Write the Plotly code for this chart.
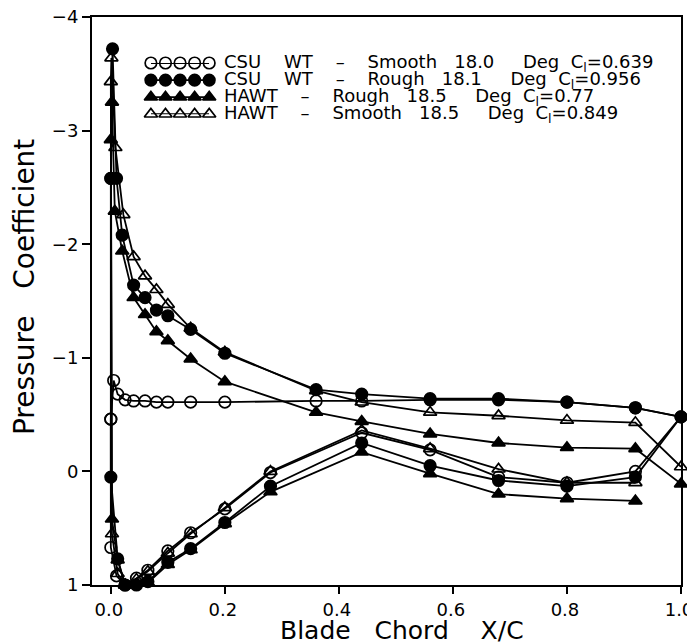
import plotly.graph_objects as go

FONT = "DejaVu Sans"
NB = "\u00a0"

# ---------------- data (x/c, Cp) ----------------
# CSU WT - Smooth 18.0 deg (open circles)
csu_s_up_x = [0.0, 0.005, 0.012, 0.025, 0.04, 0.06, 0.08, 0.10, 0.14, 0.20, 0.36, 0.44, 0.56, 0.68, 0.80, 0.92, 1.0]
csu_s_up_cp = [-0.46, -0.80, -0.68, -0.63, -0.62, -0.62, -0.61, -0.61, -0.61, -0.61, -0.62, -0.62, -0.63, -0.63, -0.61, -0.56, -0.48]
csu_s_lo_x = [0.92, 0.80, 0.68, 0.56, 0.44, 0.28, 0.20, 0.14, 0.10, 0.065, 0.045, 0.025, 0.01, 0.0]
csu_s_lo_cp = [0.00, 0.10, 0.05, -0.19, -0.34, 0.01, 0.33, 0.54, 0.70, 0.87, 0.94, 1.00, 0.92, 0.67]

# CSU WT - Rough 18.1 deg (filled circles)
csu_r_up_x = [0.0, 0.003, 0.01, 0.02, 0.04, 0.06, 0.08, 0.10, 0.14, 0.20, 0.36, 0.44, 0.56, 0.68, 0.80, 0.92, 1.0]
csu_r_up_cp = [-2.58, -3.72, -2.58, -2.08, -1.64, -1.53, -1.42, -1.37, -1.25, -1.04, -0.72, -0.68, -0.64, -0.64, -0.61, -0.56, -0.48]
csu_r_lo_x = [0.92, 0.80, 0.68, 0.56, 0.44, 0.28, 0.20, 0.14, 0.10, 0.065, 0.045, 0.025, 0.012, 0.0]
csu_r_lo_cp = [0.05, 0.13, 0.08, -0.05, -0.25, 0.13, 0.45, 0.68, 0.80, 0.97, 1.00, 1.00, 0.77, 0.05]

# HAWT - Rough 18.5 deg (filled triangles)
hawt_r_lo_x = [0.92, 0.80, 0.68, 0.56, 0.44, 0.28, 0.20, 0.14, 0.10, 0.065, 0.045, 0.025, 0.012, 0.002]
hawt_r_lo_cp = [0.26, 0.24, 0.20, 0.02, -0.17, 0.18, 0.46, 0.69, 0.82, 0.98, 1.02, 1.00, 0.78, 0.42]
hawt_r_up_x = [0.0, 0.002, 0.007, 0.02, 0.04, 0.06, 0.08, 0.10, 0.14, 0.20, 0.36, 0.44, 0.56, 0.68, 0.80, 0.92, 1.0]
hawt_r_up_cp = [-2.92, -3.25, -2.29, -1.94, -1.53, -1.38, -1.23, -1.15, -0.99, -0.79, -0.52, -0.44, -0.33, -0.25, -0.21, -0.20, 0.11]

# HAWT - Smooth 18.5 deg (open triangles)
hawt_s_lo_x = [0.92, 0.80, 0.68, 0.56, 0.44, 0.28, 0.20, 0.14, 0.10, 0.065, 0.045, 0.025, 0.012, 0.002]
hawt_s_lo_cp = [0.10, 0.10, -0.02, -0.20, -0.36, 0.00, 0.32, 0.55, 0.72, 0.88, 0.95, 1.00, 0.90, 0.55]
hawt_s_up_x = [0.0, 0.001, 0.008, 0.022, 0.04, 0.06, 0.08, 0.10, 0.14, 0.20, 0.36, 0.44, 0.56, 0.68, 0.80, 0.92, 1.0]
hawt_s_up_cp = [-3.43, -3.64, -2.85, -2.26, -1.89, -1.72, -1.60, -1.47, -1.26, -1.05, -0.71, -0.61, -0.52, -0.49, -0.45, -0.43, -0.04]

def gap(n):
    return NB * n

legend_labels = [
    "CSU" + gap(4) + "WT" + gap(4) + "–" + gap(4) + "Smooth" + gap(3) + "18.0" + gap(5) + "Deg" + gap(2) + "C<sub>l</sub>=0.639",
    "CSU" + gap(4) + "WT" + gap(4) + "–" + gap(4) + "Rough" + gap(3) + "18.1" + gap(5) + "Deg" + gap(2) + "C<sub>l</sub>=0.956",
    "HAWT" + gap(4) + "–" + gap(4) + "Rough" + gap(3) + "18.5" + gap(5) + "Deg" + gap(2) + "C<sub>l</sub>=0.77",
    "HAWT" + gap(4) + "–" + gap(4) + "Smooth" + gap(3) + "18.5" + gap(5) + "Deg" + gap(2) + "C<sub>l</sub>=0.849",
]
legend_sample_x = [0, 1, 2, 3, 4]

x_title = "Blade" + gap(3) + "Chord" + gap(4) + "X/C"
y_title = "Pressure" + gap(3) + "Coefficient"

x_ticks = [0.0, 0.2, 0.4, 0.6, 0.8, 1.0]
y_ticks = [-4, -3, -2, -1, 0, 1]

series = [
    (csu_s_up_x + csu_s_lo_x + csu_s_up_x[:1], csu_s_up_cp + csu_s_lo_cp + csu_s_up_cp[:1], "circle-open"),
    (csu_r_up_x + csu_r_lo_x + csu_r_up_x[:1], csu_r_up_cp + csu_r_lo_cp + csu_r_up_cp[:1], "circle"),
    (hawt_r_lo_x + hawt_r_up_x, hawt_r_lo_cp + hawt_r_up_cp, "triangle-up"),
    (hawt_s_lo_x + hawt_s_up_x, hawt_s_lo_cp + hawt_s_up_cp, "triangle-up-open"),
]

fig = go.Figure()
for i, (xs, ys, sym) in enumerate(series):
    fig.add_trace(go.Scatter(
        x=xs, y=ys, mode="lines+markers", showlegend=False, cliponaxis=False,
        line=dict(color="black", width=1.8),
        marker=dict(symbol=sym, size=11.5, color="black", line=dict(color="black", width=1.7)),
    ))
    # custom legend sample (five markers on a line)
    fig.add_trace(go.Scatter(
        x=legend_sample_x, y=[i] * len(legend_sample_x), xaxis="x2", yaxis="y2",
        mode="lines+markers", showlegend=False, cliponaxis=False,
        line=dict(color="black", width=1.8),
        marker=dict(symbol=sym, size=11.5, color="black", line=dict(color="black", width=1.7)),
    ))
    fig.add_annotation(
        x=0.2207, xref="paper", y=i, yref="y2", text=legend_labels[i],
        showarrow=False, xanchor="left", yanchor="middle",
        font=dict(family=FONT, size=18, color="black"),
    )

# axis titles, placed where the reference has them
fig.add_annotation(
    x=0.526, xref="paper", y=0, yref="paper", yshift=-45, text=x_title,
    showarrow=False, xanchor="center", yanchor="middle",
    font=dict(family=FONT, size=25, color="black"),
)
fig.add_annotation(
    x=0, xref="paper", xshift=-68, y=0.5246, yref="paper", text=y_title, textangle=-90,
    showarrow=False, xanchor="center", yanchor="middle",
    font=dict(family=FONT, size=28, color="black"),
)

# the page body keeps an 8px default margin, so the figure is 8px smaller
# and its margins are set so the plot frame lands at the reference's place
fig.update_layout(
    width=687, height=636,
    margin=dict(l=84, r=14, t=9, b=59),
    paper_bgcolor="white", plot_bgcolor="white",
    font=dict(family=FONT, color="black"),
    xaxis=dict(
        range=[-0.033, 1.0], tickvals=x_ticks, tickformat=".1f",
        showline=True, mirror=True, linecolor="black", linewidth=2,
        ticks="outside", ticklen=7, tickwidth=2, tickcolor="black",
        showgrid=False, zeroline=False, automargin=False,
        ticklabeloverflow="allow", ticklabelshift=-2,
        tickfont=dict(family=FONT, size=18),
    ),
    yaxis=dict(
        range=[1, -4], tickvals=y_ticks,
        showline=True, mirror=True, linecolor="black", linewidth=2,
        ticks="outside", ticklen=8, tickwidth=2, tickcolor="black",
        showgrid=False, zeroline=False, automargin=False,
        ticklabeloverflow="allow",
        tickfont=dict(family=FONT, size=18),
    ),
    xaxis2=dict(domain=[0.100, 0.199], range=[0, 4], visible=False, anchor="y2", fixedrange=True),
    yaxis2=dict(domain=[0.829, 0.919], range=[3, 0], visible=False, anchor="x2", fixedrange=True),
)

fig.write_html("out.html")
